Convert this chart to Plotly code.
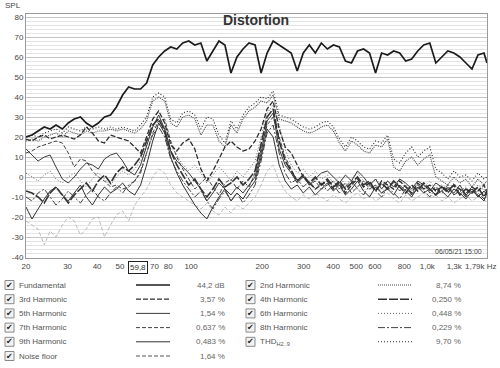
import math
import plotly.graph_objects as go

# ---------------- data ----------------
freq_hz = [20.0, 21.2, 22.5, 23.9, 25.3, 26.8, 28.5, 30.2, 32.0, 34.0,
           36.0, 38.2, 40.5, 43.0, 45.6, 48.3, 51.3, 54.4, 57.7, 61.1,
           64.8, 68.8, 72.9, 77.3, 82.0, 87.0, 92.2, 97.8, 103.7, 110.0,
           116.6, 123.7, 131.2, 139.1, 147.5, 156.4, 165.9, 175.9, 186.6, 197.9,
           209.8, 222.5, 236.0, 250.3, 265.4, 281.5, 298.5, 316.6, 335.7, 356.0,
           377.6, 400.4, 424.6, 450.3, 477.6, 506.5, 537.1, 569.6, 604.0, 640.6,
           679.3, 720.4, 764.0, 810.0, 859.0, 911.0, 966.0, 1025.0, 1087.0, 1152.0,
           1222.0, 1296.0, 1374.0, 1457.0, 1546.0, 1639.0, 1738.0, 1790.0]

fundamental = [20, 21, 23, 25, 24, 26, 24, 27, 29, 30,
               27, 25, 27, 30, 31, 35, 41, 45, 44, 44,
               47, 56, 60, 63, 65, 64, 67, 68, 66, 67,
               58, 63, 68, 66, 52, 60, 64, 67, 66, 52,
               62, 68, 66, 64, 62, 53, 62, 66, 62, 67,
               64, 66, 65, 58, 57, 63, 64, 62, 52, 62,
               61, 63, 62, 58, 59, 63, 66, 67, 57, 60,
               63, 62, 60, 57, 54, 61, 62, 57]

thd = [20, 21, 20, 22, 23, 24, 22, 25, 24, 23,
       25, 24, 25, 24, 25, 24, 25, 24, 23, 26,
       30, 40, 42, 40, 29, 27, 32, 33, 31, 24,
       30, 29, 21, 17, 28, 24, 31, 35, 37, 40,
       39, 43, 31, 30, 29, 27, 25, 24, 25, 27,
       28, 25, 19, 15, 20, 18, 15, 14, 18, 17,
       21, 9, 7, 12, 15, 10, 13, 15, 4, 2,
       -1, 3, 0, 1, -2, 2, -1, 0]

h2 = [18, 19, 18, 20, 21, 22, 20, 23, 22, 21,
      23, 22, 23, 23, 24, 23, 24, 23, 22, 24,
      28, 38, 40, 38, 27, 25, 30, 31, 29, 21,
      26, 26, 18, 15, 26, 22, 29, 33, 35, 38,
      37, 41, 29, 28, 27, 25, 23, 22, 23, 25,
      26, 23, 17, 13, 18, 16, 13, 12, 16, 15,
      19, 5, 3, 8, 10, 6, 9, 11, 0, -2,
      -4, 0, -3, -1, -5, -1, -4, -2]

h3 = [19, 18, 20, 21, 19, 20, 21, 20, 19, 21,
      25, 22, 18, 17, 21, 20, 19, 18, 15, 12,
      20, 29, 33, 27, 16, 13, 17, 19, 14, 4,
      -2, 3, 9, 15, 18, 15, 13, 14, 18, 24,
      34, 38, 24, 15, 12, 6, 0, -3, -6, -4,
      -2, -6, -3, -8, -4, -1, -5, -3, -7, -2,
      -4, -6, -2, -5, -8, -3, -6, -4, -7, -5,
      -8, -4, -6, -9, -5, -7, -4, -8]

h4 = [-7, -8, -10, -13, -8, -5, -9, -13, -9, -6,
      -3, -7, -2, 1, -3, 2, 5, 3, 6, 10,
      18, 26, 29, 23, 13, 6, 1, -4, -1, -6,
      -10, -6, -1, -5, -3, 0, -4, -1, 3, 16,
      30, 34, 18, 8, 3, -2, 1, -3, 0, -4,
      -1, -5, -2, -6, -3, 0, -4, -2, -7, -3,
      -6, -2, -5, -8, -4, -7, -3, -6, -9, -5,
      -7, -4, -9, -6, -8, -5, -10, -7]

h5 = [14, 11, 8, 10, 11, 5, -1, -3, 0, 4,
      7, 6, 4, 9, 11, 12, 8, 3, 1, 6,
      15, 25, 31, 24, 13, 8, 5, 2, -2, -6,
      -12, -8, -3, -6, -9, -5, -8, -4, 0, 12,
      28, 32, 14, 6, 2, -3, 0, -4, -1, 2,
      3, 0, -3, 1, -2, 3, 0, -4, -1, -6,
      -2, -5, -1, -3, -6, -2, -4, -7, -3, -5,
      -6, -8, -4, -9, -6, -10, -7, -9]

h6 = [2, 0, -2, 1, 3, -1, -3, 0, 2, -2,
      -5, -1, 2, -1, -4, 0, 3, 1, 4, 8,
      16, 24, 28, 25, 16, 11, 6, 3, 6, 2,
      -3, 1, 5, 2, -2, 3, 0, 4, 8, 20,
      32, 36, 26, 14, 6, 2, 4, 0, 3, -1,
      1, -3, 0, -4, -1, 2, -2, -5, -1, -4,
      -2, -5, -1, -4, -7, -3, -5, -2, -6, -4,
      -6, -3, -7, -5, -8, -4, -6, -9]

h7 = [12, 13, 15, 16, 17, 18, 17, 12, 5, 9,
      8, 3, 0, -2, -5, -4, -6, -5, -2, 2,
      12, 22, 28, 29, 18, 10, 4, -1, -6, -3,
      0, -5, -9, -3, -1, -6, -2, -5, 2, 14,
      26, 30, 20, 10, 4, -2, 1, -4, -2, -6,
      -4, -2, -6, -3, -8, -5, -2, -6, -4, -8,
      -5, -3, -7, -4, -9, -6, -3, -8, -5, -7,
      -4, -9, -6, -8, -5, -10, -7, -6]

h8 = [-10, -12, -8, -6, -10, -14, -11, -7, -10, -13,
      -9, -6, -10, -12, -8, -5, -8, -4, -2, 3,
      12, 21, 25, 20, 9, 3, -2, -6, -10, -7,
      -12, -16, -11, -7, -12, -8, -13, -9, -4, 8,
      22, 26, 12, 2, -3, -1, -5, -2, -6, -3,
      -7, -4, -8, -5, -2, -6, -9, -4, -7, -10,
      -5, -8, -11, -6, -9, -4, -7, -10, -6, -8,
      -5, -9, -7, -10, -6, -8, -11, -9]

h9 = [-15, -21, -16, -11, -7, -5, -9, -12, -8, -4,
      -10, -14, -9, -5, -8, -6, -3, -7, -9, -4,
      6, 18, 27, 22, 10, 2, -4, -9, -14, -18,
      -21, -15, -10, -6, -12, -8, -11, -6, -2, 10,
      24, 20, 6, -2, -6, -4, -8, -5, -9, -6,
      -3, -7, -4, -9, -6, -2, -7, -10, -5, -8,
      -6, -9, -4, -7, -10, -5, -8, -6, -9, -7,
      -10, -6, -8, -11, -7, -9, -12, -8]

noise_floor = [-22, -24, -26, -34, -27, -30, -24, -20, -22, -29,
               -26, -21, -20, -30, -24, -19, -17, -22, -14, -10,
               -6, 0, 4, 2, -4, -8, -10, -12, -14, -16,
               -13, -17, -19, -15, -18, -14, -16, -13, -10, -4,
               3, 6, -2, -7, -10, -12, -9, -11, -8, -10,
               -12, -9, -11, -13, -10, -8, -11, -9, -12, -10,
               -8, -11, -13, -9, -12, -10, -8, -11, -9, -12,
               -10, -13, -11, -9, -12, -10, -11, -13]

series_names = ["Fundamental", "3rd Harmonic", "5th Harmonic", "7th Harmonic",
                "9th Harmonic", "Noise floor", "2nd Harmonic", "4th Harmonic",
                "6th Harmonic", "8th Harmonic", "THD<sub>H2..9</sub>"]
series_values_text = ["44,2 dB", "3,57 %", "1,54 %", "0,637 %", "0,483 %", "1,64 %",
                      "8,74 %", "0,250 %", "0,448 %", "0,229 %", "9,70 %"]

x_tick_vals = [20, 30, 40, 50, 70, 80, 100, 200, 300, 400, 500, 600, 800, 1000, 1300]
x_tick_text = ["20", "30", "40", "50", "70", "80", "100", "200", "300", "400",
               "500", "600", "800", "1,0k", "1,3k"]
x_grid_freqs = [30, 50, 80, 90, 100, 200, 300, 600, 700, 850, 1200, 1400]
y_tick_vals = [80, 70, 60, 50, 40, 30, 20, 10, 0, -10, -20, -30, -40]
cursor_freq = 59.8
marker_freq = 1000
f_min, f_max = 20, 1790

# ---------------- styles ----------------
styles = {
    "Fundamental": dict(color="#1c1c1c", width=1.7, dash="solid"),
    "3rd Harmonic": dict(color="#2e2e2e", width=1.3, dash="5px,2px"),
    "5th Harmonic": dict(color="#3a3a3a", width=1.0, dash="solid"),
    "7th Harmonic": dict(color="#444444", width=1.0, dash="4px,2px"),
    "9th Harmonic": dict(color="#333333", width=1.0, dash="solid"),
    "Noise floor": dict(color="#bdbdbd", width=1.0, dash="4px,2px"),
    "2nd Harmonic": dict(color="#4a4a4a", width=1.1, dash="1px,1px"),
    "4th Harmonic": dict(color="#333333", width=1.6, dash="9px,2px"),
    "6th Harmonic": dict(color="#666666", width=1.0, dash="1px,2px"),
    "8th Harmonic": dict(color="#444444", width=1.0, dash="7px,2px,2px,2px"),
    "THD<sub>H2..9</sub>": dict(color="#2a2a2a", width=1.1, dash="1px,2px"),
}
data_map = {
    "Fundamental": fundamental, "3rd Harmonic": h3, "5th Harmonic": h5,
    "7th Harmonic": h7, "9th Harmonic": h9, "Noise floor": noise_floor,
    "2nd Harmonic": h2, "4th Harmonic": h4, "6th Harmonic": h6,
    "8th Harmonic": h8, "THD<sub>H2..9</sub>": thd,
}
draw_order = ["Noise floor", "9th Harmonic", "8th Harmonic", "7th Harmonic",
              "6th Harmonic", "5th Harmonic", "4th Harmonic", "3rd Harmonic",
              "2nd Harmonic", "THD<sub>H2..9</sub>", "Fundamental"]

W, H = 500, 368
L, R, T, B = 26, 13, 14, 110
PW, PH = W - L - R, H - T - B
FONT = "Liberation Sans, Arial, sans-serif"


def px(x):
    return (x - L) / PW


def py(y):
    return (H - B - y) / PH


def label(text, x, y, xanchor="center", size=8, color="#444", family=FONT, **kw):
    d = dict(text=text, x=px(x), y=py(y), xref="paper", yref="paper",
             xanchor=xanchor, yanchor="middle", showarrow=False,
             font=dict(size=size, color=color, family=family))
    d.update(kw)
    return d


fig = go.Figure()
for name in draw_order:
    fig.add_trace(go.Scatter(x=freq_hz, y=data_map[name], mode="lines",
                             line=styles[name], hoverinfo="skip", showlegend=False))

shapes = []
annotations = []
for f in x_grid_freqs:
    shapes.append(dict(type="line", xref="x", yref="paper", x0=math.log10(f), x1=math.log10(f),
                       y0=0, y1=1, line=dict(color="#b5b5b5", width=1), layer="below"))
shapes.append(dict(type="line", xref="x", yref="paper", x0=math.log10(marker_freq),
                   x1=math.log10(marker_freq), y0=0, y1=1,
                   line=dict(color="#5a5a5a", width=1), layer="below"))
shapes.append(dict(type="line", xref="x", yref="paper", x0=math.log10(cursor_freq),
                   x1=math.log10(cursor_freq), y0=0, y1=1,
                   line=dict(color="#111111", width=1.3), layer="above"))

annotations.append(dict(text="59,8", x=math.log10(cursor_freq), xref="x", y=0, yref="paper",
                        xanchor="center", yanchor="top", yshift=-3, showarrow=False,
                        bordercolor="#222", borderwidth=1, borderpad=1, bgcolor="white",
                        font=dict(size=8, color="#333", family=FONT)))
annotations.append(label("1,79k Hz", 499, 266, xanchor="right"))
annotations.append(label("<b>Distortion</b>", 256, 20, size=14, color="#333"))
annotations.append(label("SPL", 3, 5, xanchor="left"))
annotations.append(label("06/05/21 15:00", 484, 251, xanchor="right", size=7))

# legend
cols = [dict(box=5, label=17, s0=136, s1=170, val=227),
        dict(box=246, label=258, s0=378, s1=412, val=463)]
for i, name in enumerate(series_names):
    c = cols[0] if i < 6 else cols[1]
    row = i if i < 6 else i - 6
    yy = 285 + 14.2 * row
    shapes.append(dict(type="rect", xref="paper", yref="paper", x0=px(c["box"]),
                       x1=px(c["box"] + 9), y0=py(yy + 4.5), y1=py(yy - 4.5),
                       line=dict(color="#8a8a8a", width=1), fillcolor="#f2f2f2"))
    annotations.append(label("✔", c["box"] + 4.8, yy, size=8, color="#222",
                             family="DejaVu Sans"))
    annotations.append(label(name, c["label"], yy, xanchor="left", color="#555"))
    st = styles[name]
    shapes.append(dict(type="line", xref="paper", yref="paper", x0=px(c["s0"]),
                       x1=px(c["s1"]), y0=py(yy), y1=py(yy),
                       line=dict(color=st["color"] if name != "Noise floor" else "#555",
                                 width=max(st["width"], 1.0), dash=st["dash"])))
    annotations.append(label(series_values_text[i], c["val"], yy, xanchor="right",
                             color="#666"))

fig.update_layout(
    width=W, height=H, margin=dict(l=L, r=R, t=T, b=B, autoexpand=False),
    paper_bgcolor="white", plot_bgcolor="white",
    xaxis=dict(type="log", range=[math.log10(f_min), math.log10(f_max)],
               tickvals=x_tick_vals, ticktext=x_tick_text, showgrid=False,
               ticks="", zeroline=False, showline=True, mirror=True, automargin=False,
               linecolor="#9a9a9a", linewidth=1,
               tickfont=dict(size=8, color="#444", family=FONT)),
    yaxis=dict(range=[-40.5, 81.5], tickvals=y_tick_vals,
               ticktext=[str(v) for v in y_tick_vals], showgrid=True, automargin=False,
               gridcolor="#c4c4c4", gridwidth=1, zeroline=False, ticks="",
               showline=True, mirror=True, linecolor="#9a9a9a", linewidth=1,
               minor=dict(dtick=2, tick0=0, showgrid=True, gridcolor="#e4e4e4"),
               tickfont=dict(size=8, color="#444", family=FONT)),
    shapes=shapes, annotations=annotations,
)

fig.write_html("out.html", config={"displayModeBar": False},
               post_script="document.body.style.margin='0';"
                           "document.body.style.padding='0';"
                           "document.body.style.overflow='hidden';")
